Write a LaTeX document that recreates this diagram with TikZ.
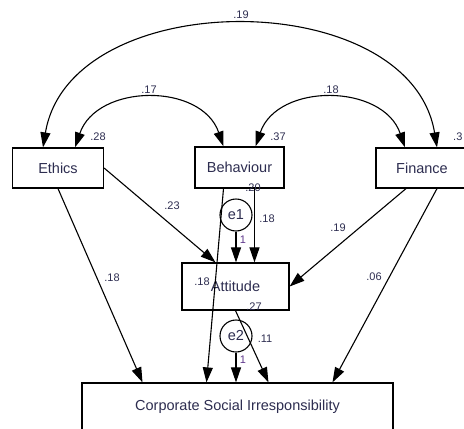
\documentclass[tikz,border=0pt]{standalone}
\usepackage{fontspec}
\setmainfont{Liberation Sans}
\usepackage{xcolor}
\usetikzlibrary{arrows.meta, calc}
\definecolor{numcol}{RGB}{45,45,80}
\definecolor{onecol}{RGB}{95,55,140}

\begin{document}
\begin{tikzpicture}[x=1pt, y=-1pt, >={Triangle[length=15pt,width=10pt]},
    var/.style={draw, line width=1.2pt, fill=white, font=\fontsize{14.5}{16}\selectfont, text=numcol},
    err/.style={draw, circle, line width=1.1pt, fill=white, minimum size=32pt, inner sep=0pt, font=\fontsize{14.5}{16}\selectfont, text=numcol},
    arr/.style={->, line width=1.1pt},
    coef/.style={font=\fontsize{11}{12}\selectfont, text=numcol, inner sep=0pt},
    one/.style={coef, text=onecol}]
  \useasboundingbox (0,0) rectangle (464,429);
  % variables
  \node[var, minimum width=91pt, minimum height=40pt] (ethics) at (58,168) {Ethics};
  \node[var, minimum width=89pt, minimum height=41pt] (behav) at (239.5,167.5) {Behaviour};
  \node[var, minimum width=92pt, minimum height=40pt] (finance) at (422,168) {Finance};
  \node[var, minimum width=107pt, minimum height=47pt] (att) at (235.5,286.5) {Attitude};
  \node[var, minimum width=311pt, minimum height=48pt] (csi) at (237.5,407) {Corporate Social Irresponsibility};
  \node[err] (e1) at (236,215) {e1};
  \node[err] (e2) at (236,336) {e2};

  % covariances
  \draw[<->, line width=1.1pt] ([xshift=-15pt]ethics.north) .. controls +(27,-163) and +(-27,-163) .. ([xshift=15pt]finance.north);
  \draw[<->, line width=1.1pt] ([xshift=17pt]ethics.north) .. controls +(22,-64) and +(-22,-64) .. ([xshift=-16pt]behav.north);
  \draw[<->, line width=1.1pt] ([xshift=16pt]behav.north) .. controls +(22,-64) and +(-22,-64) .. ([xshift=-17pt]finance.north);

  % paths
  \draw[arr] (ethics.east) -- ([xshift=-20pt]att.north);
  \draw[arr] (ethics.south) -- ([xshift=-95pt]csi.north);
  \draw[arr] ([xshift=-16pt]behav.south) -- ([xshift=-31pt]csi.north);
  \draw[arr] ([xshift=15pt]behav.south) -- ([xshift=15pt]behav.south |- att.north);
  \draw[arr] (e1) -- (e1 |- att.north);
  \draw[arr] ([xshift=-16pt]finance.south) -- (att.east);
  \draw[arr] ([xshift=15pt]finance.south) -- ([xshift=95pt]csi.north);
  \draw[arr] (att.south) -- ([xshift=31pt]csi.north);
  \draw[arr] (e2) -- (e2 |- csi.north);

  % estimates
  \node[coef] (c19) at (241,15) {.19};
  \node[coef] (c17) at (149,90) {.17};
  \node[coef] (c18a) at (331,90) {.18};
  \node[coef] (c28) at (98,137) {.28};
  \node[coef] (c37) at (278,137) {.37};
  \node[coef, anchor=west] (c3) at (453,137) {.3};
  \node[coef] (c23) at (172,206) {.23};
  \node[coef] (c18b) at (112,278) {.18};
  \node[coef] (c18c) at (202,282) {.18};
  \node[coef] (c20) at (253,188) {.20};
  \node[coef] (c18d) at (267,219) {.18};
  \node[one] (c1a) at (243,240) {1};
  \node[coef] (c19b) at (338,228) {.19};
  \node[coef] (c06) at (374,277) {.06};
  \node[coef] (c27) at (254,307) {.27};
  \node[coef] (c11) at (265,339) {.11};
  \node[one] (c1b) at (243,360) {1};
\end{tikzpicture}
\end{document}
